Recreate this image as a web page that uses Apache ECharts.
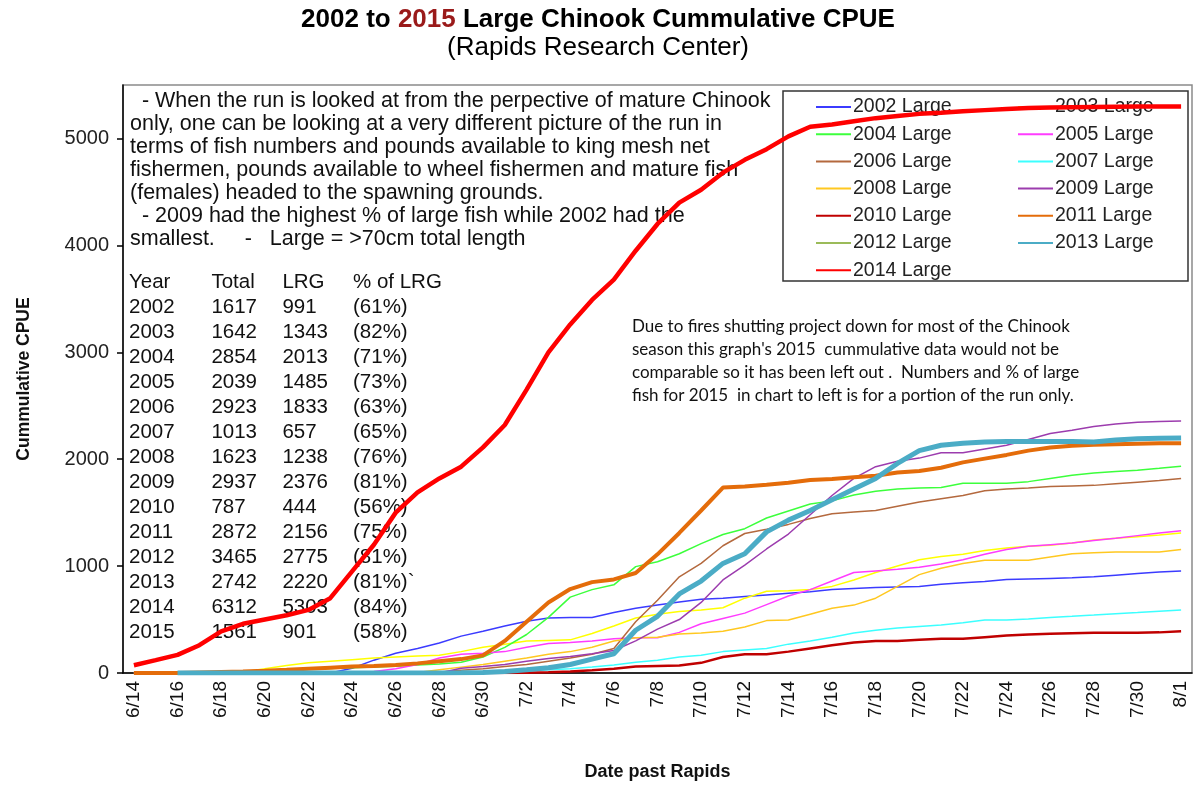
<!DOCTYPE html>
<html>
<head>
<meta charset="utf-8">
<script src="https://cdn.jsdelivr.net/npm/echarts@6/dist/echarts.min.js"></script>
<style>
  html, body { margin: 0; padding: 0; background: #fff; }
  #chart { width: 1196px; height: 786px; }
</style>
</head>
<body>
<div id="chart"></div>
<script>
const dates = ['6/14', '6/15', '6/16', '6/17', '6/18', '6/19', '6/20', '6/21', '6/22', '6/23',
  '6/24', '6/25', '6/26', '6/27', '6/28', '6/29', '6/30', '7/1', '7/2', '7/3',
  '7/4', '7/5', '7/6', '7/7', '7/8', '7/9', '7/10', '7/11', '7/12', '7/13',
  '7/14', '7/15', '7/16', '7/17', '7/18', '7/19', '7/20', '7/21', '7/22', '7/23',
  '7/24', '7/25', '7/26', '7/27', '7/28', '7/29', '7/30', '7/31', '8/1']

const y2002 = [0, 0, 0, 0, 0, 0, 0, 0, 0, 0, 45, 120, 185, 230, 280, 345, 390, 440, 485, 515,
  520, 520, 565, 605, 635, 665, 690, 700, 715, 730, 745, 760, 780, 790, 800, 805, 810, 830, 845, 855,
  875, 880, 885, 890, 900, 915, 930, 945, 955]
const y2003 = [0, 0, 0, 0, 0, 10, 40, 70, 95, 110, 125, 140, 150, 160, 165, 200, 240, 270, 300, 305,
  310, 370, 440, 515, 550, 575, 590, 610, 700, 765, 770, 780, 810, 870, 940, 1000, 1060, 1090, 1110, 1145,
  1170, 1185, 1195, 1215, 1245, 1260, 1275, 1290, 1310]
const y2004 = [0, 0, 0, 0, 5, 12, 20, 28, 35, 42, 48, 55, 62, 75, 85, 100, 150, 240, 360, 520,
  710, 780, 825, 995, 1040, 1115, 1210, 1295, 1350, 1450, 1515, 1580, 1610, 1665, 1700, 1720, 1730, 1735, 1775, 1775,
  1775, 1790, 1820, 1850, 1870, 1885, 1897, 1915, 1935]
const y2005 = [0, 0, 0, 0, 0, 0, 0, 0, 0, 0, 5, 15, 40, 80, 140, 175, 185, 200, 240, 275,
  285, 300, 320, 330, 330, 380, 460, 510, 560, 640, 720, 780, 860, 940, 955, 970, 990, 1020, 1060, 1110,
  1155, 1185, 1200, 1215, 1240, 1260, 1285, 1310, 1330]
const y2006 = [0, 0, 0, 0, 0, 0, 0, 0, 0, 0, 0, 0, 0, 0, 10, 25, 40, 60, 80, 110,
  140, 175, 230, 480, 680, 900, 1025, 1190, 1305, 1345, 1390, 1445, 1490, 1505, 1520, 1560, 1600, 1630, 1660, 1705,
  1720, 1730, 1745, 1750, 1755, 1770, 1785, 1800, 1820]
const y2007 = [0, 0, 0, 0, 0, 0, 0, 0, 0, 0, 0, 0, 0, 0, 0, 0, 5, 10, 20, 30,
  40, 55, 75, 100, 120, 150, 165, 200, 215, 230, 270, 300, 335, 375, 400, 420, 435, 450, 470, 495,
  495, 505, 520, 530, 542, 555, 566, 578, 590]
const y2008 = [0, 0, 0, 0, 0, 0, 0, 0, 0, 0, 0, 0, 0, 5, 30, 55, 80, 110, 140, 175,
  200, 240, 300, 330, 335, 365, 375, 390, 430, 490, 495, 550, 605, 635, 700, 810, 920, 980, 1025, 1055,
  1055, 1055, 1085, 1115, 1125, 1132, 1132, 1132, 1155]
const y2009 = [0, 0, 0, 0, 0, 0, 0, 0, 0, 0, 0, 0, 0, 0, 0, 45, 60, 80, 110, 135,
  155, 180, 210, 300, 410, 500, 660, 870, 1010, 1160, 1300, 1480, 1660, 1820, 1930, 1980, 2010, 2060, 2060, 2095,
  2130, 2185, 2240, 2270, 2305, 2330, 2345, 2352, 2356]
const y2010 = [0, 0, 0, 0, 0, 0, 0, 0, 0, 0, 0, 0, 0, 0, 0, 0, 0, 0, 2, 8,
  15, 25, 40, 60, 65, 70, 95, 150, 175, 175, 200, 230, 260, 285, 300, 300, 310, 320, 320, 335,
  350, 360, 367, 372, 376, 376, 376, 380, 390]
const y2011 = [0, 0, 0, 5, 10, 15, 22, 30, 40, 50, 60, 65, 75, 90, 110, 130, 165, 300, 480, 660,
  785, 850, 875, 935, 1110, 1310, 1520, 1735, 1745, 1760, 1780, 1805, 1815, 1830, 1845, 1875, 1890, 1920, 1970, 2005,
  2040, 2080, 2110, 2125, 2135, 2140, 2145, 2148, 2150]
// 2012 is in the legend only, no line is drawn for it
const y2012 = []
const y2013 = [null, null, 0, 0, 0, 0, 0, 0, 0, 0, 0, 0, 0, 0, 0, 2, 5, 15, 30, 50,
  80, 130, 180, 400, 530, 740, 860, 1025, 1115, 1320, 1430, 1520, 1620, 1720, 1820, 1960, 2080, 2130, 2150, 2160,
  2165, 2165, 2165, 2165, 2160, 2180, 2190, 2195, 2197]
const y2014 = [73, 120, 170, 260, 390, 460, 500, 540, 590, 700, 950, 1200, 1500, 1690, 1820, 1930, 2110, 2320, 2650, 3000,
  3260, 3490, 3680, 3950, 4200, 4400, 4520, 4680, 4800, 4900, 5020, 5110, 5130, 5160, 5190, 5210, 5230, 5240, 5255, 5265,
  5275, 5285, 5290, 5292, 5294, 5296, 5298, 5300, 5300]

const yTicks = [0, 1000, 2000, 3000, 4000, 5000]

const tableYears = ['2002', '2003', '2004', '2005', '2006', '2007', '2008', '2009', '2010', '2011', '2012', '2013', '2014', '2015']
const tableTotal = ['1617', '1642', '2854', '2039', '2923', '1013', '1623', '2937', '787', '2872', '3465', '2742', '6312', '1561']
const tableLrg = ['991', '1343', '2013', '1485', '1833', '657', '1238', '2376', '444', '2156', '2775', '2220', '5303', '901']
const tablePct = ['(61%)', '(82%)', '(71%)', '(73%)', '(63%)', '(65%)', '(76%)', '(81%)', '(56%)', '(75%)', '(81%)', '(81%)`', '(84%)', '(58%)']

const noteLines = [
  '  - When the run is looked at from the perpective of mature Chinook',
  'only, one can be looking at a very different picture of the run in',
  'terms of fish numbers and pounds available to king mesh net',
  'fishermen, pounds available to wheel fishermen and mature fish',
  '(females) headed to the spawning grounds.',
  '  - 2009 had the highest % of large fish while 2002 had the',
  'smallest.     -   Large = >70cm total length'
]
const fireLines = [
  'Due to fires shutting project down for most of the Chinook',
  'season this graph\'s 2015  cummulative data would not be',
  'comparable so it has been left out .  Numbers and % of large',
  'fish for 2015  in chart to left is for a portion of the run only.'
]

const ARIAL = '"Liberation Sans", Arial, sans-serif'

const lines = [
  { name: '2002 Large', data: y2002, color: '#3b3bff', width: 1.5 },
  { name: '2003 Large', data: y2003, color: '#ffff00', width: 1.5 },
  { name: '2004 Large', data: y2004, color: '#3cff3c', width: 1.5 },
  { name: '2005 Large', data: y2005, color: '#ff3cff', width: 1.5 },
  { name: '2006 Large', data: y2006, color: '#b4693e', width: 1.5 },
  { name: '2007 Large', data: y2007, color: '#3cffff', width: 1.5 },
  { name: '2008 Large', data: y2008, color: '#ffc820', width: 1.5 },
  { name: '2009 Large', data: y2009, color: '#9c3cae', width: 1.5 },
  { name: '2010 Large', data: y2010, color: '#c00000', width: 2.5 },
  { name: '2011 Large', data: y2011, color: '#e46c0a', width: 4 },
  { name: '2012 Large', data: y2012, color: '#9bbb59', width: 4 },
  { name: '2013 Large', data: y2013, color: '#4bacc6', width: 5 },
  { name: '2014 Large', data: y2014, color: '#ff0000', width: 4.5 }
]

function legendBlock (names, left) {
  return {
    data: names,
    orient: 'vertical',
    left: left,
    top: 97,
    padding: 0,
    itemWidth: 35,
    itemHeight: 20,
    itemGap: 7.2,
    z: 1,
    selectedMode: false,
    itemStyle: { opacity: 0, color: 'rgba(0,0,0,0)', borderWidth: 0 },
    textStyle: { fontFamily: ARIAL, fontSize: 19.5, color: '#222', padding: [0, 0, 0, -3] }
  }
}

function textBlock (x, y, txt, opts) {
  return {
    type: 'text',
    left: x,
    top: y,
    z: 3,
    style: Object.assign({
      text: txt,
      fontFamily: ARIAL,
      fontSize: 21.5,
      lineHeight: 23,
      fill: '#111'
    }, opts || {})
  }
}

function rightCol (x, y, txt, opts) {
  const el = textBlock(0, y, txt, Object.assign({ align: 'right' }, opts))
  delete el.left
  el.right = 1196 - x
  return el
}

var chart = echarts.init(document.getElementById('chart'), null, { renderer: 'canvas' })

const tableRows = 25
const TITLE_FONT = '"Liberation Sans", Arial, sans-serif'
var option = {
  backgroundColor: '#fff',
  animation: false,
  title: [{
    text: '2002 to {r|2015} Large Chinook Cummulative CPUE',
    left: 'center',
    top: 7,
    padding: 0,
    textStyle: {
      fontFamily: TITLE_FONT,
      fontSize: 26,
      fontWeight: 'bold',
      color: '#000',
      rich: {
        r: { fontFamily: TITLE_FONT, fontSize: 26, fontWeight: 'bold', color: '#9a1a1a' }
      }
    }
  }, {
    text: '(Rapids Research Center)',
    left: 'center',
    top: 35,
    padding: 0,
    textStyle: { fontFamily: TITLE_FONT, fontSize: 26, fontWeight: 'normal', color: '#000' }
  }],
  grid: {
    left: 123,
    right: 4,
    top: 85,
    bottom: 101,
    show: true,
    borderColor: '#8a8a8a',
    borderWidth: 1.5
  },
  legend: [
    legendBlock(lines.filter((l, i) => i % 2 === 0).map(l => l.name), 815),
    legendBlock(lines.filter((l, i) => i % 2 === 1).map(l => l.name), 1017)
  ],
  xAxis: {
    type: 'category',
    data: dates,
    boundaryGap: true,
    name: 'Date past Rapids',
    nameLocation: 'middle',
    nameGap: 90,
    nameTextStyle: { fontFamily: ARIAL, fontSize: 18, fontWeight: 'bold', color: '#111' },
    axisLine: { lineStyle: { color: '#000', width: 1.5 } },
    axisTick: { interval: 1, length: 6, lineStyle: { color: '#000', width: 1.5 } },
    axisLabel: { interval: 1, rotate: 90, margin: 8, fontFamily: ARIAL, fontSize: 19, color: '#111' },
    splitLine: { show: false }
  },
  yAxis: {
    type: 'value',
    min: 0,
    max: 5500,
    interval: 1000,
    name: 'Cummulative CPUE',
    nameLocation: 'middle',
    nameGap: 90,
    nameTextStyle: { fontFamily: ARIAL, fontSize: 17.5, fontWeight: 'bold', color: '#111' },
    axisLine: { show: true, lineStyle: { color: '#000', width: 1.5 } },
    axisTick: { show: true, length: 6, customValues: yTicks, lineStyle: { color: '#000', width: 1.5 } },
    axisLabel: {
      customValues: yTicks,
      margin: 14,
      fontFamily: ARIAL,
      fontSize: 20,
      color: '#222',
      formatter: v => String(v)
    },
    splitLine: { show: false }
  },
  graphic: [
    {
      type: 'rect',
      z: 0,
      shape: { x: 783, y: 91, width: 405, height: 190 },
      style: { fill: 'none', stroke: '#333', lineWidth: 1.5 }
    },
    textBlock(130, 90, noteLines.join('\n')),
    textBlock(129, 270, ['Year'].concat(tableYears).join('\n'), { fontSize: 20.5, lineHeight: tableRows }),
    rightCol(257, 270, ['Total'].concat(tableTotal).join('\n'), { fontSize: 20.5, lineHeight: tableRows }),
    rightCol(328, 270, ['LRG'].concat(tableLrg).join('\n'), { fontSize: 20.5, lineHeight: tableRows }),
    textBlock(353, 270, ['% of LRG'].concat(tablePct).join('\n'), { fontSize: 20.5, lineHeight: tableRows }),
    textBlock(632, 315, fireLines.join('\n'), { fontFamily: 'Lato, "Open Sans", sans-serif', fontSize: 17, lineHeight: 23, fill: '#111' })
  ],
  series: lines.map(l => ({
    name: l.name,
    type: 'line',
    data: l.data,
    symbol: 'none',
    showSymbol: false,
    connectNulls: false,
    color: l.color,
    lineStyle: { color: l.color, width: l.width },
    emphasis: { disabled: true }
  }))
}

chart.setOption(option)
</script>
</body>
</html>
